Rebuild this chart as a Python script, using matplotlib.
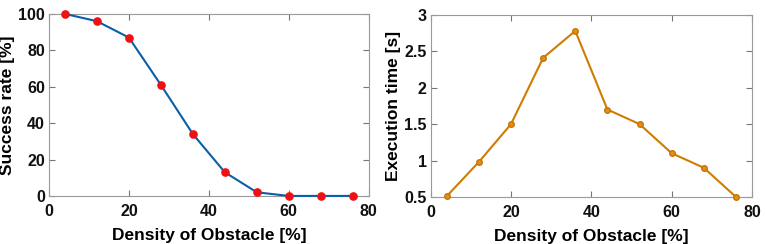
import matplotlib
matplotlib.use("Agg")
import matplotlib.pyplot as plt

density = [4, 12, 20, 28, 36, 44, 52, 60, 68, 76]
success_rate = [100, 96, 87, 61, 34, 13, 2, 0, 0, 0]
exec_time = [0.51, 0.98, 1.5, 2.41, 2.78, 1.7, 1.5, 1.1, 0.9, 0.5]

plt.rcParams['font.family'] = ['Liberation Sans', 'DejaVu Sans']
plt.rcParams['font.weight'] = 'bold'

fig = plt.figure(figsize=(7.65, 2.44), dpi=100)
ax1 = fig.add_axes([0.064, 0.197, 0.418, 0.746])
ax2 = fig.add_axes([0.563, 0.193, 0.420, 0.746])

ax1.plot(density, success_rate, color='#0a5fa8', lw=1.5, marker='o', ms=5.2,
         mfc='#ee1111', mec='#ee1111', zorder=3, clip_on=False)
ax1.set_xlim(0, 80)
ax1.set_ylim(0, 100)
ax1.set_xticks([0, 20, 40, 60, 80])
ax1.set_yticks([0, 20, 40, 60, 80, 100])
ax1.set_ylabel('Success rate [%]', fontsize=12.5, fontweight='bold', labelpad=2)
ax1.set_xlabel('Density of Obstacle [%]', fontsize=12.5, fontweight='bold', labelpad=6)

ax2.plot(density, exec_time, color='#d07c00', lw=1.5, marker='o', ms=4,
         mfc='#e0901a', mec='#c87400', zorder=3, clip_on=False)
ax2.set_xlim(0, 80)
ax2.set_ylim(0.5, 3)
ax2.set_xticks([0, 20, 40, 60, 80])
ax2.set_yticks([0.5, 1, 1.5, 2, 2.5, 3])
ax2.set_yticklabels(['0.5', '1', '1.5', '2', '2.5', '3'])
ax2.set_ylabel('Execution time [s]', fontsize=12.5, fontweight='bold', labelpad=2)
ax2.set_xlabel('Density of Obstacle [%]', fontsize=12.5, fontweight='bold', labelpad=6)

for ax in (ax1, ax2):
    for s in ax.spines.values():
        s.set_color('#999999')
        s.set_linewidth(0.8)
    ax.tick_params(direction='in', top=True, right=True, length=4, width=0.8,
                   color='#777777', labelsize=11.5)
    ax.tick_params(axis='x', pad=6)
    ax.tick_params(axis='y', pad=3)
    for lab in ax.get_xticklabels() + ax.get_yticklabels():
        lab.set_fontweight('bold')
        lab.set_color('#111111')

fig.savefig('out.png', dpi=100)
